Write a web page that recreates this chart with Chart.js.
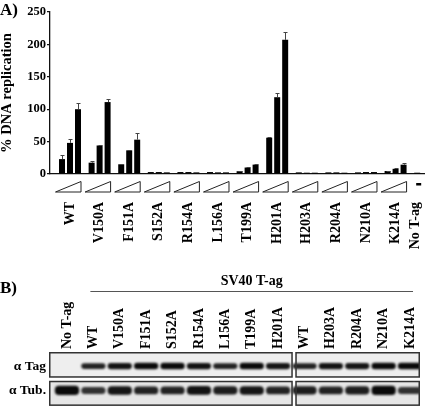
<!DOCTYPE html>
<html><head><meta charset="utf-8">
<script src="https://cdn.jsdelivr.net/npm/chart.js@4.4.0/dist/chart.umd.min.js"></script>
<style>
html,body{margin:0;padding:0;background:#fff;overflow:hidden;}
#wrap{position:relative;width:425px;height:417px;}
#cA{position:absolute;left:0;top:0;}
#cB{position:absolute;left:0;top:270px;}
</style></head><body>
<div id="wrap">
<canvas id="cA" width="425" height="270"></canvas>
<canvas id="cB" width="425" height="147"></canvas>
</div>
<script>
// ---------- Panel A data ----------
const mutants  = ['WT','V150A','F151A','S152A','R154A','L156A','T199A','H201A','H203A','R204A','N210A','K214A','No T-ag'];
const lowDose  = [23, 17.5, 15, 3, 3, 3, 4.3, 56, 2.5, 2.5, 2.5, 4.6, 2];
const midDose  = [48, 44, 36.5, 3, 3, 2.5, 10, 118.5, 2, 2.5, 3, 8, null];
const highDose = [100, 111, 53, 2.5, 2.5, 2.5, 14.5, 207, 2, 2, 3, 14.4, null];
const lowErr   = [6, 2, 0.5, 0, 0, 0, 0.5, 0.8, 0, 0, 0, 0.5, 0];
const midErr   = [6, 1, 0.5, 0, 0, 0, 0.5, 6.5, 0, 0, 0, 0.5, 0];
const highErr  = [9, 5, 10, 0, 0, 0, 1, 12, 0, 0, 0, 2.6, 0];
const yTicks   = [0, 50, 100, 150, 200, 250];

// ---------- Panel B data (band strength 0..1, read from blot) ----------
const lanes     = ['No T-ag','WT','V150A','F151A','S152A','R154A','L156A','T199A','H201A','WT','H203A','R204A','N210A','K214A'];
const rowLabels = ['\u03B1 Tag', '\u03B1 Tub.'];
const tagBand   = [0, 0.7, 0.9, 1.0, 1.0, 0.9, 0.7, 1.0, 0.85, 0.7, 0.9, 0.85, 1.0, 1.0];
const tubBand   = [1.0, 0.5, 0.85, 0.7, 0.7, 0.9, 0.75, 0.85, 0.7, 0.75, 0.7, 0.75, 1.0, 0.5];
const sv40Title = 'SV40 T-ag';

const SERIF = '"Liberation Serif", "Times New Roman", serif';
const LABEL_PAD = 28;
const errs = [lowErr, midErr, highErr];

// ---------- Panel A ----------
const panelA = {
  id: 'panelA',
  afterDatasetsDraw(chart) {
    const {ctx, scales: {y}} = chart;
    ctx.save();
    ctx.strokeStyle = '#444';
    ctx.lineWidth = 1;
    chart.data.datasets.forEach((ds, di) => {
      const meta = chart.getDatasetMeta(di);
      meta.data.forEach((bar, i) => {
        const v = ds.data[i], e = errs[di][i];
        if (v == null || !e) return;
        const yt = Math.round(y.getPixelForValue(v + e)) + 0.5;
        const xc = Math.round(bar.x) + 0.5;
        ctx.beginPath();
        ctx.moveTo(xc, bar.y); ctx.lineTo(xc, yt);
        ctx.moveTo(xc - 2, yt); ctx.lineTo(xc + 2, yt);
        ctx.stroke();
      });
    });
    ctx.restore();
  },
  afterDraw(chart) {
    const {ctx, chartArea: a, scales: {x}} = chart;
    ctx.save();
    // dose wedges
    ctx.strokeStyle = '#222';
    ctx.lineWidth = 1;
    const yb = a.bottom + 18, yt = a.bottom + 7.5;
    mutants.forEach((m, i) => {
      if (midDose[i] == null) return;
      const xc = x.getPixelForValue(i);
      ctx.beginPath();
      ctx.moveTo(xc - 14.5, yb);
      ctx.lineTo(xc + 11, yt);
      ctx.lineTo(xc + 11, yb);
      ctx.closePath();
      ctx.stroke();
    });
    // single-condition lane: dash + label under its bar
    const iNo = mutants.indexOf('No T-ag');
    const bar = chart.getDatasetMeta(0).data[iNo];
    ctx.fillStyle = '#000';
    ctx.fillRect(bar.x - 1, a.bottom + 9, 5, 2.5);
    ctx.translate(bar.x - 1.5, a.bottom + LABEL_PAD);
    ctx.rotate(-Math.PI / 2);
    ctx.font = 'bold 14px ' + SERIF;
    ctx.textAlign = 'right';
    ctx.textBaseline = 'middle';
    ctx.fillText(mutants[iNo], 0, 0);
    ctx.restore();
    // panel letter
    ctx.save();
    ctx.font = 'bold 17px ' + SERIF;
    ctx.fillStyle = '#000';
    ctx.textBaseline = 'alphabetic';
    ctx.fillText('A)', 0, 15);
    ctx.restore();
  }
};

new Chart(document.getElementById('cA'), {
  type: 'bar',
  data: {
    labels: mutants,
    datasets: [
      {label: 'low', data: lowDose, backgroundColor: '#000'},
      {label: 'mid', data: midDose, backgroundColor: '#000'},
      {label: 'high', data: highDose, backgroundColor: '#000'}
    ]
  },
  options: {
    responsive: false, animation: false,
    layout: {padding: {top: 12, right: 0, left: 0, bottom: 0}},
    plugins: {legend: {display: false}, tooltip: {enabled: false}, colors: {enabled: false}},
    datasets: {bar: {borderWidth: 0, categoryPercentage: 0.81, barPercentage: 0.75}},
    scales: {
      x: {
        type: 'category',
        grid: {display: false, drawTicks: false},
        border: {display: true, color: '#111', width: 1.3},
        ticks: {
          autoSkip: false, minRotation: 90, maxRotation: 90, padding: LABEL_PAD, color: '#000',
          font: {family: SERIF, size: 14, weight: 'bold'},
          callback: (v, i) => mutants[i] === 'No T-ag' ? '' : mutants[i]
        },
        afterBuildTicks: s => { s._startValue = -0.676; s._valueRange = 12.67; },
        afterFit: s => { s.height = 96; s.paddingLeft = 0; s.paddingRight = 0; }
      },
      y: {
        min: 0, max: 250,
        afterBuildTicks: s => { s.ticks = yTicks.map(v => ({value: v})); },
        grid: {drawOnChartArea: false, drawTicks: true, tickLength: 3, color: '#111', lineWidth: 1.2},
        border: {display: true, color: '#111', width: 1.3},
        ticks: {padding: 1, color: '#000', font: {family: SERIF, size: 12.5, weight: 'bold'}},
        title: {display: true, text: '% DNA replication', color: '#000', padding: 0,
                font: {family: SERIF, size: 14.5, weight: 'bold', lineHeight: 1}},
        afterFit: s => { s.width = 50; }
      }
    }
  },
  plugins: [panelA]
});

// ---------- Panel B ----------
const TAG_C = 1.477, TUB_C = 0.575;
const tagHalf = s => 0.07 + 0.05 * s;
const tubHalf = s => 0.09 + 0.08 * s;

const blot = {
  id: 'blot',
  beforeDatasetsDraw(chart) {
    const {ctx, chartArea: a, scales: {x, y}} = chart;
    const split = x.getPixelForValue(8.5);
    const panels = [[a.left, split + 1.5], [split + 4, a.right]];
    const rows = [[a.top, y.getPixelForValue(1.046), '#eeeeee'], [y.getPixelForValue(0.932), a.bottom, '#e6e6e6']];
    chart.$frames = {panels, rows};
    ctx.save();
    rows.forEach(r => panels.forEach(p => {
      ctx.fillStyle = r[2];
      ctx.fillRect(p[0], r[0], p[1] - p[0], r[1] - r[0]);
    }));
    ctx.restore();
    ctx.save();
    ctx.filter = 'blur(1.1px)';
  },
  afterDatasetsDraw(chart) {
    const {ctx} = chart;
    ctx.restore();
    const {panels, rows} = chart.$frames;
    ctx.save();
    ctx.strokeStyle = '#333';
    ctx.lineWidth = 1.5;
    rows.forEach(r => panels.forEach(p => {
      ctx.strokeRect(p[0] + 0.75, r[0] + 0.75, p[1] - p[0] - 1.5, r[1] - r[0] - 1.5);
    }));
    ctx.restore();
  },
  afterDraw(chart) {
    const {ctx, chartArea: a, scales: {x}} = chart;
    ctx.save();
    const lineY = a.top - 61;
    const x0 = x.getPixelForValue(1) - 3, x1 = x.getPixelForValue(lanes.length - 1) + 3;
    ctx.strokeStyle = '#555';
    ctx.lineWidth = 1;
    ctx.beginPath();
    ctx.moveTo(x0, lineY + 0.5); ctx.lineTo(x1, lineY + 0.5);
    ctx.stroke();
    ctx.fillStyle = '#000';
    ctx.font = 'bold 14px ' + SERIF;
    ctx.textAlign = 'center';
    ctx.textBaseline = 'alphabetic';
    ctx.fillText(sv40Title, (x0 + x1) / 2, lineY - 6);
    ctx.textAlign = 'left';
    ctx.font = 'bold 17px ' + SERIF;
    ctx.fillText('B)', 0, 23);
    ctx.restore();
  }
};

const bandColor = arr => c => 'rgba(10,10,10,' + (0.65 + 0.35 * arr[c.dataIndex]) + ')';

new Chart(document.getElementById('cB'), {
  type: 'bar',
  data: {
    labels: lanes,
    datasets: [
      {label: rowLabels[0], data: tagBand.map(s => s > 0 ? [TAG_C - tagHalf(s), TAG_C + tagHalf(s)] : null),
       backgroundColor: bandColor(tagBand)},
      {label: rowLabels[1], data: tubBand.map(s => s > 0 ? [TUB_C - tubHalf(s), TUB_C + tubHalf(s)] : null),
       backgroundColor: bandColor(tubBand)}
    ]
  },
  options: {
    responsive: false, animation: false,
    layout: {padding: {top: 0, right: 5, left: 0, bottom: 0}},
    plugins: {legend: {display: false}, tooltip: {enabled: false}, colors: {enabled: false}},
    datasets: {bar: {grouped: false, categoryPercentage: 1, barPercentage: 0.92, borderWidth: 0,
                     borderRadius: 4, borderSkipped: false}},
    scales: {
      x: {
        type: 'category', position: 'top',
        grid: {display: false, drawTicks: false}, border: {display: false},
        ticks: {autoSkip: false, minRotation: 90, maxRotation: 90, padding: 3, labelOffset: 16.8, color: '#000',
                font: {family: SERIF, size: 14, weight: 'bold'}},
        afterBuildTicks: s => { s._startValue = -0.682; s._valueRange = 14.06; },
        afterFit: s => { s.height = 82; s.paddingLeft = 0; s.paddingRight = 0; }
      },
      y: {
        min: 0, max: 2,
        grid: {display: false, drawTicks: false}, border: {display: false},
        afterBuildTicks: s => { s.ticks = [{value: TAG_C}, {value: TUB_C}]; },
        ticks: {padding: 3, color: '#000', font: {family: SERIF, size: 13.5, weight: 'bold'},
                callback: (v, i) => rowLabels[i]},
        afterFit: s => { s.width = 49; }
      }
    }
  },
  plugins: [blot]
});
</script>
</body></html>
